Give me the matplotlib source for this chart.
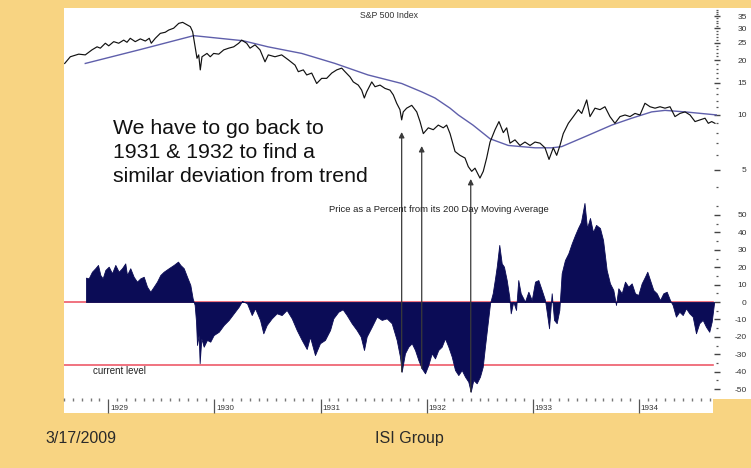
import matplotlib
matplotlib.use('Agg')
import matplotlib.pyplot as plt
import matplotlib.transforms as mtransforms
from matplotlib.patches import Rectangle
from matplotlib.ticker import FixedLocator, NullFormatter

plt.rcParams['font.family'] = ['Liberation Sans', 'DejaVu Sans']

# ---------------- data ----------------
price_dates = [1928.589, 1928.642, 1928.721, 1928.783, 1928.846, 1928.894, 1928.925, 1928.972, 1929.004, 1929.051,
               1929.098, 1929.145, 1929.176, 1929.207, 1929.254, 1929.302, 1929.349, 1929.386, 1929.405, 1929.443,
               1929.490, 1929.537, 1929.569, 1929.616, 1929.664, 1929.701, 1929.742, 1929.773, 1929.795, 1929.820,
               1929.836, 1929.852, 1929.867, 1929.883, 1929.930, 1929.961, 1929.993, 1930.041, 1930.088, 1930.135,
               1930.182, 1930.229, 1930.257, 1930.304, 1930.336, 1930.383, 1930.430, 1930.477, 1930.508, 1930.571,
               1930.634, 1930.697, 1930.760, 1930.791, 1930.838, 1930.870, 1930.917, 1930.964, 1931.011, 1931.058,
               1931.106, 1931.153, 1931.200, 1931.231, 1931.278, 1931.309, 1931.356, 1931.388, 1931.413, 1931.435,
               1931.483, 1931.514, 1931.561, 1931.608, 1931.655, 1931.686, 1931.718, 1931.749, 1931.765, 1931.780,
               1931.812, 1931.860, 1931.907, 1931.938, 1931.969, 1932.016, 1932.063, 1932.110, 1932.157, 1932.189,
               1932.221, 1932.268, 1932.315, 1932.362, 1932.393, 1932.425, 1932.456, 1932.503, 1932.534, 1932.566,
               1932.598, 1932.645, 1932.682, 1932.723, 1932.755, 1932.786, 1932.833, 1932.880, 1932.927, 1932.975,
               1933.022, 1933.069, 1933.116, 1933.154, 1933.194, 1933.226, 1933.257, 1933.288, 1933.336, 1933.383,
               1933.430, 1933.462, 1933.509, 1933.540, 1933.587, 1933.634, 1933.681, 1933.728, 1933.775, 1933.823,
               1933.870, 1933.917, 1933.964, 1934.011, 1934.058, 1934.106, 1934.153, 1934.200, 1934.247, 1934.294,
               1934.341, 1934.388, 1934.436, 1934.483, 1934.530, 1934.577, 1934.624, 1934.655, 1934.687, 1934.718]
price_values = [19.2, 20.9, 21.6, 21.4, 22.8, 23.7, 23.3, 24.8, 24.0, 25.3,
                24.8, 25.8, 25.1, 26.4, 25.3, 26.2, 25.5, 26.4, 24.8, 26.4,
                28.1, 28.5, 29.3, 30.0, 31.9, 32.3, 31.3, 30.6, 28.7, 23.3,
                20.5, 21.4, 17.7, 20.9, 21.8, 20.9, 21.8, 21.6, 22.8, 23.3,
                23.7, 24.8, 25.8, 24.8, 23.3, 24.3, 22.8, 19.6, 21.4, 20.9,
                21.4, 20.1, 18.8, 17.3, 17.7, 16.6, 17.0, 14.9, 15.9, 15.9,
                17.0, 17.7, 18.1, 17.3, 16.2, 15.2, 14.6, 13.7, 12.4, 13.4,
                15.2, 14.3, 14.6, 14.0, 13.7, 12.9, 11.6, 10.7, 9.4, 10.4,
                10.9, 11.3, 10.4, 9.2, 7.9, 8.5, 8.3, 8.8, 8.5, 8.8,
                7.9, 6.3, 6.0, 5.8, 5.2, 4.9, 5.1, 4.5, 4.9, 5.8,
                7.1, 8.3, 9.2, 8.0, 8.5, 7.0, 7.3, 6.8, 7.1, 6.8,
                7.1, 7.0, 6.6, 5.7, 6.6, 6.0, 6.8, 7.9, 9.0, 9.8,
                10.7, 10.2, 12.1, 9.8, 10.9, 10.7, 11.1, 9.8, 9.0, 9.8,
                10.0, 9.8, 10.2, 10.0, 11.6, 11.1, 10.9, 11.1, 10.9, 11.1,
                9.8, 10.2, 10.4, 10.0, 9.2, 9.4, 9.6, 9.0, 9.2, 9.0]

ma_dates = [1928.783, 1929.302, 1929.805, 1930.270, 1930.505, 1930.823, 1931.137, 1931.448, 1931.765, 1931.954,
            1932.079, 1932.221, 1932.299, 1932.437, 1932.598, 1932.770, 1933.022, 1933.179, 1933.273, 1933.493,
            1933.745, 1933.933, 1934.121, 1934.247, 1934.436, 1934.738]
ma_values = [19.2, 22.9, 27.3, 25.6, 23.7, 21.8, 19.2, 16.6, 14.9, 13.4,
             12.4, 10.9, 10.0, 8.8, 7.4, 6.8, 6.6, 6.6, 6.7, 7.6,
             8.8, 9.6, 10.4, 10.6, 10.4, 10.0]

dev_dates = [1928.790, 1928.815, 1928.846, 1928.877, 1928.903, 1928.925, 1928.947, 1928.972, 1929.004, 1929.035,
             1929.066, 1929.098, 1929.129, 1929.160, 1929.176, 1929.207, 1929.239, 1929.270, 1929.302, 1929.334,
             1929.365, 1929.396, 1929.428, 1929.459, 1929.490, 1929.522, 1929.569, 1929.616, 1929.657, 1929.679,
             1929.711, 1929.742, 1929.773, 1929.795, 1929.814, 1929.827, 1929.836, 1929.852, 1929.861, 1929.877,
             1929.899, 1929.930, 1929.961, 1929.993, 1930.041, 1930.088, 1930.135, 1930.182, 1930.229, 1930.260,
             1930.307, 1930.352, 1930.383, 1930.430, 1930.461, 1930.493, 1930.540, 1930.587, 1930.634, 1930.681,
             1930.729, 1930.776, 1930.823, 1930.870, 1930.901, 1930.948, 1930.995, 1931.042, 1931.090, 1931.121,
             1931.168, 1931.209, 1931.247, 1931.294, 1931.341, 1931.379, 1931.410, 1931.435, 1931.483, 1931.530,
             1931.577, 1931.624, 1931.671, 1931.718, 1931.749, 1931.765, 1931.796, 1931.828, 1931.860, 1931.891,
             1931.922, 1931.954, 1931.985, 1932.016, 1932.048, 1932.079, 1932.110, 1932.142, 1932.173, 1932.205,
             1932.237, 1932.268, 1932.299, 1932.331, 1932.362, 1932.393, 1932.416, 1932.440, 1932.472, 1932.503,
             1932.529, 1932.550, 1932.572, 1932.598, 1932.623, 1932.645, 1932.661, 1932.685, 1932.708, 1932.729,
             1932.755, 1932.779, 1932.793, 1932.817, 1932.843, 1932.864, 1932.887, 1932.927, 1932.959, 1932.991,
             1933.022, 1933.053, 1933.085, 1933.116, 1933.132, 1933.154, 1933.179, 1933.201, 1933.226, 1933.251,
             1933.273, 1933.304, 1933.336, 1933.368, 1933.399, 1933.427, 1933.455, 1933.488, 1933.512, 1933.540,
             1933.568, 1933.597, 1933.634, 1933.663, 1933.697, 1933.728, 1933.760, 1933.785, 1933.807, 1933.839,
             1933.870, 1933.901, 1933.933, 1933.964, 1933.995, 1934.027, 1934.058, 1934.080, 1934.106, 1934.137,
             1934.169, 1934.200, 1934.231, 1934.263, 1934.294, 1934.319, 1934.350, 1934.382, 1934.414, 1934.445,
             1934.476, 1934.508, 1934.539, 1934.570, 1934.602, 1934.633, 1934.664, 1934.687, 1934.709]
dev_values = [14.0, 13.6, 17.4, 19.4, 21.3, 15.5, 13.6, 18.4, 20.3, 16.5,
              21.3, 17.4, 19.4, 22.2, 15.5, 19.4, 14.5, 11.7, 13.6, 14.5,
              8.8, 5.9, 8.8, 11.7, 15.5, 17.4, 19.4, 21.3, 23.2, 21.3,
              19.4, 14.5, 9.8, 2.1, -1.7, -11.3, -24.7, -19.0, -35.2, -20.9,
              -25.7, -21.8, -22.8, -19.0, -17.1, -13.2, -10.3, -6.5, -2.7, 0.6,
              -0.7, -7.5, -3.6, -10.3, -18.0, -13.2, -9.4, -6.5, -7.5, -4.6,
              -9.4, -16.1, -21.8, -27.0, -20.0, -30.5, -23.7, -21.8, -16.1, -9.4,
              -5.6, -4.2, -7.5, -12.2, -16.1, -19.9, -27.6, -19.9, -14.2, -8.4,
              -10.3, -9.4, -12.2, -21.8, -31.4, -40.1, -29.5, -25.7, -23.7, -27.6,
              -33.3, -38.1, -41.0, -36.2, -29.5, -32.4, -27.6, -25.7, -20.9, -25.7,
              -31.4, -39.1, -42.0, -39.1, -42.9, -45.8, -51.6, -44.8, -46.7, -42.9,
              -37.2, -25.7, -14.2, -0.7, 5.0, 13.6, 20.3, 32.8, 22.2, 20.3,
              12.6, 3.0, -6.5, 0.2, -4.6, 12.6, 5.0, 0.2, 5.9, 1.1,
              11.7, 12.6, 6.9, 1.1, -5.6, -15.1, 5.0, -10.3, -12.2, -4.6,
              16.5, 24.1, 28.0, 33.7, 38.5, 42.5, 46.0, 56.9, 42.5, 48.3,
              40.2, 44.3, 42.5, 35.6, 18.4, 10.7, 6.9, -1.7, 7.9, 5.0,
              11.7, 8.8, 10.7, 5.0, 4.0, 10.7, 14.5, 17.4, 12.6, 6.9,
              5.0, 1.1, 5.0, 5.9, 1.1, -1.7, -8.4, -5.6, -7.5, -3.6,
              -6.5, -8.4, -18.0, -12.2, -10.3, -14.2, -17.1, -11.3, -0.7]

current_level = -36
years = [1929, 1930, 1931, 1932, 1933, 1934]
price_ticks = [5, 10, 15, 20, 25, 30, 35]
dev_ticks = [-50, -40, -30, -20, -10, 0, 10, 20, 30, 40, 50]
arrow_dates = [1931.765, 1931.954, 1932.416]
arrow_prices = [8.06, 6.75, 4.45]
arrow_devs = [-40.1, -38.1, -51.6]

# ---------------- layout ----------------
W, H = 751, 468
BG = '#F8D482'
NAVY = '#0b0c56'
RED = '#ee5a6a'

fig = plt.figure(figsize=(W / 100, H / 100), dpi=100, facecolor=BG)
fig.patches.append(Rectangle((64 / W, 1 - 399 / H), (W - 64) / W, (399 - 8) / H,
                             transform=fig.transFigure, facecolor='white', edgecolor='none', zorder=-5))
fig.patches.append(Rectangle((64 / W, 1 - 413 / H), (713 - 64) / W, 15 / H,
                             transform=fig.transFigure, facecolor='white', edgecolor='none', zorder=-5))

L, R = 64, 717
xlo = 1929 + (L - 108.3) / 106.1
xhi = 1929 + (R - 108.3) / 106.1


def clean(ax):
    ax.set_facecolor('none')
    for s in ax.spines.values():
        s.set_visible(False)
    ax.set_xlim(xlo, xhi)
    ax.tick_params(axis='x', which='both', bottom=False, top=False, labelbottom=False)


def right_axis(ax, ticks, minors):
    ax.set_yticks(ticks)
    ax.set_yticklabels([str(v) for v in ticks])
    ax.yaxis.set_minor_locator(FixedLocator(minors))
    ax.yaxis.set_minor_formatter(NullFormatter())
    ax.tick_params(axis='y', which='both', left=False, labelleft=False, right=True, labelright=True)
    ax.tick_params(axis='y', which='major', direction='inout', length=5, width=1.0,
                   color='#444444', labelsize=6, labelcolor='#333333', pad=19)
    ax.tick_params(axis='y', which='minor', direction='inout', length=2, width=0.9, color='#555555')
    for lbl in ax.get_yticklabels():
        lbl.set_horizontalalignment('right')


# top panel: price (log scale)
ax_top = fig.add_axes([L / W, 1 - 195 / H, (R - L) / W, 187 / H])
clean(ax_top)
ax_top.set_yscale('log')
ax_top.set_ylim(3.632, 38.74)
ax_top.plot(ma_dates, ma_values, color='#5f5fab', lw=1.0, zorder=2)
ax_top.plot(price_dates, price_values, color='#111111', lw=0.85, zorder=3)
right_axis(ax_top, price_ticks, [v for v in range(4, 39) if v not in price_ticks])

# bottom panel: deviation from 200-day MA
ax_bot = fig.add_axes([L / W, 1 - 398 / H, (R - L) / W, 198 / H])
clean(ax_bot)
ax_bot.set_ylim(-55.17, 58.62)
ax_bot.axhline(0, xmin=0, xmax=0.994, color=RED, lw=1.2, zorder=1)
ax_bot.axhline(current_level, xmin=0, xmax=0.994, color=RED, lw=1.2, zorder=1)
ax_bot.fill_between(dev_dates, 0, dev_values, facecolor=NAVY, edgecolor=NAVY, lw=0.6, zorder=2)
right_axis(ax_bot, dev_ticks, [v + 5 for v in dev_ticks[:-1]] + [55])

# date axis
ax_d = fig.add_axes([L / W, 1 - 413 / H, (R - L) / W, 15 / H])
clean(ax_d)
ax_d.tick_params(axis='y', which='both', left=False, labelleft=False)
ax_d.set_ylim(0, 1)
ax_d.set_xticks(years)
ax_d.set_xticks([y + m / 12 for y in range(1928, 1935) for m in range(1, 12)
                 if xlo < y + m / 12 < 1934.70], minor=True)
ax_d.tick_params(axis='x', which='major', bottom=True, direction='in', length=10, width=0.9,
                 color='#555555', labelbottom=False)
ax_d.tick_params(axis='x', which='minor', top=True, bottom=False, direction='in', length=1.8,
                 width=1.0, color='#777777')
lab_tr = mtransforms.blended_transform_factory(ax_d.transData, ax_d.transAxes) + \
    mtransforms.ScaledTranslation(2 / 100, 0, fig.dpi_scale_trans)
for yr in years:
    ax_d.text(yr, 0.33, str(yr), transform=lab_tr, fontsize=5.8, ha='left', va='center', color='#333333')

# arrows
for d, p, v in zip(arrow_dates, arrow_prices, arrow_devs):
    ax_bot.annotate('', xy=(d, p), xycoords=ax_top.transData, xytext=(d, v), textcoords=ax_bot.transData,
                    arrowprops=dict(arrowstyle='-|>', color='#3a3a3a', lw=0.9, mutation_scale=8,
                                    shrinkA=0, shrinkB=0), zorder=5)

# texts
fig.text(388.8 / W, 1 - 15 / H, 'S&P 500 Index', fontsize=6.3, ha='center', va='center', color='#333333')
fig.text(439 / W, 1 - 210 / H, 'Price as a Percent from its 200 Day Moving Average', fontsize=6.8,
         ha='center', va='center', color='#222222')
fig.text(93 / W, 1 - 371 / H, 'current level', fontsize=7.0, ha='left', va='center', color='#222222')
for txt, yb in [('We have to go back to', 133.5), ('1931 & 1932 to find a', 158),
                ('similar deviation from trend', 182.5)]:
    fig.text(113 / W, 1 - yb / H, txt, fontsize=15.3, ha='left', va='baseline', color='#111111')
fig.text(45 / W, 1 - 443 / H, '3/17/2009', fontsize=11.5, ha='left', va='baseline', color='#2a2a2a')
fig.text(375 / W, 1 - 443 / H, 'ISI Group', fontsize=11.5, ha='left', va='baseline', color='#2a2a2a')

fig.savefig('out.png', dpi=100, facecolor=BG)
